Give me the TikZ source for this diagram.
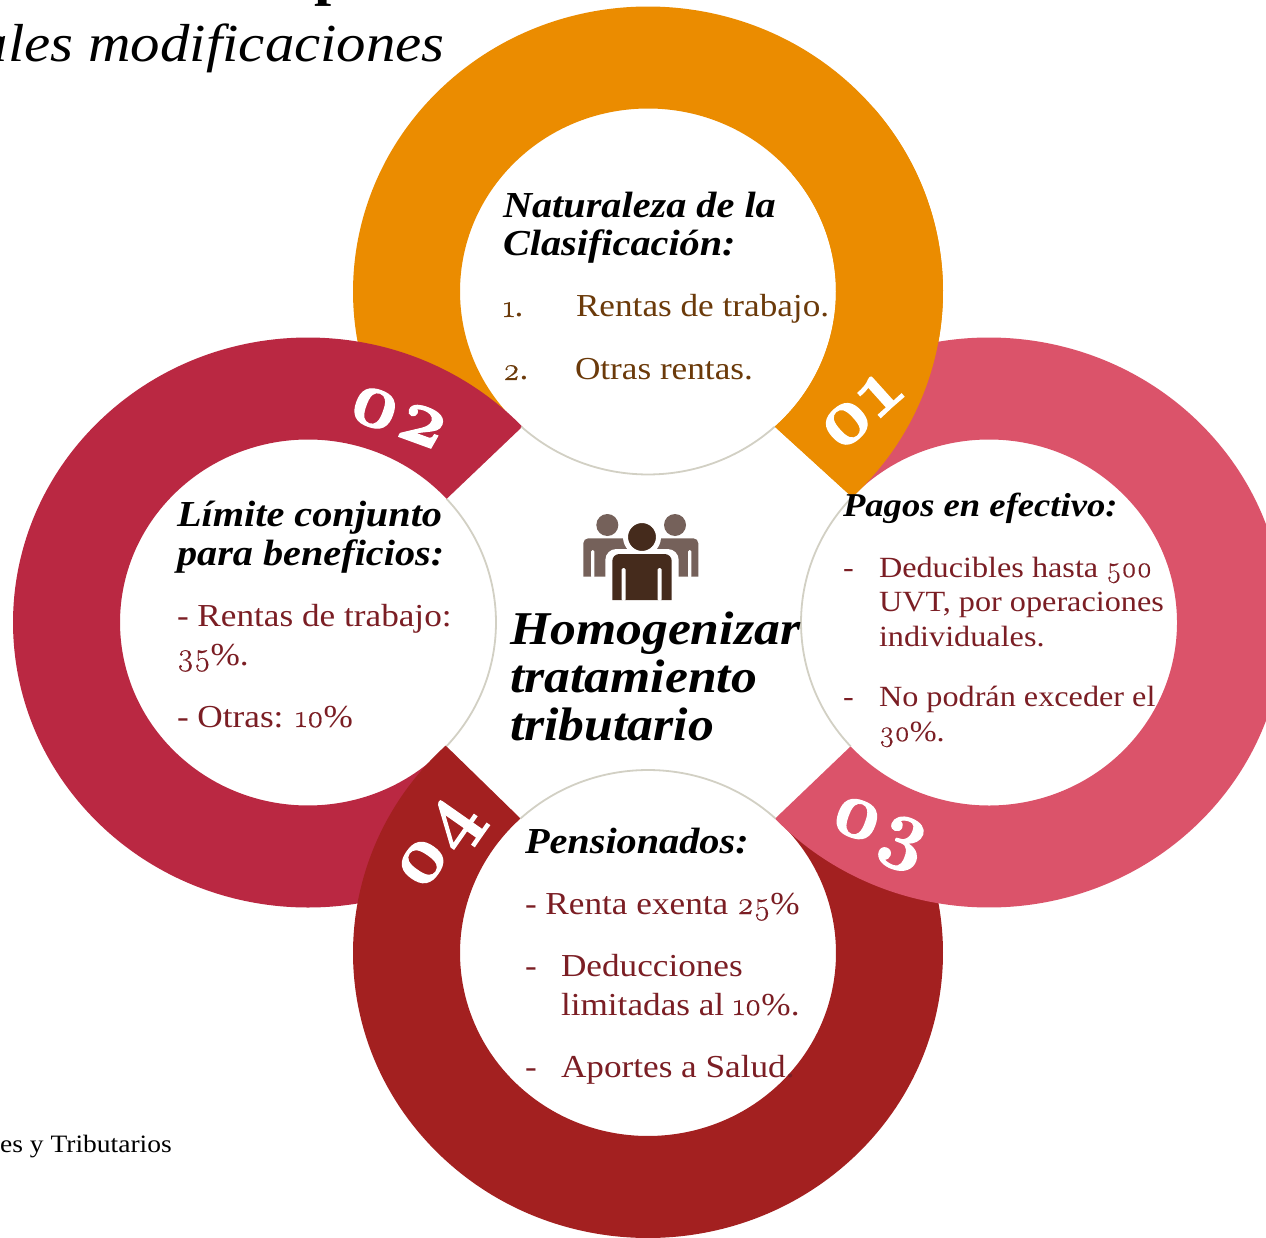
\documentclass[tikz,border=0pt]{standalone}
\usepackage{fontspec}
\usetikzlibrary{calc}
\setmainfont[FakeStretch=1.1]{Liberation Serif}
\newfontfamily\osf[Numbers=OldStyle,Scale=1.0,FakeBold=0.5]{Latin Modern Roman}
\newfontfamily\osfb[Numbers=OldStyle,BoldFeatures={FakeBold=1.5}]{Latin Modern Roman}
\definecolor{cOrange}{HTML}{EB8C00}
\definecolor{cCrimson}{HTML}{BA2842}
\definecolor{cPink}{HTML}{DB536A}
\definecolor{cDark}{HTML}{A32020}
\definecolor{cText}{HTML}{7B1E24}
\definecolor{cBrown}{HTML}{6B3A0A}
\definecolor{cRim}{HTML}{D2D0C4}
\definecolor{cPeopleA}{HTML}{75615A}
\definecolor{cPeopleB}{HTML}{452B1C}
\newcommand\ringpart[7]{%
  \fill[#1] ($(#2,#3)+(#4:295pt and 285pt)$)
    arc[start angle=#4,end angle=#5,x radius=295pt,y radius=285pt]
    -- ($(#2,#3)+(#6:188pt and 183pt)$)
    arc[start angle=#6,end angle=#7,x radius=188pt,y radius=183pt] -- cycle;}
\newcommand\rimarc[4]{%
  \draw[rim] ($(#1,#2)+(#3:188pt and 183pt)$)
    arc[start angle=#3,end angle=#4,x radius=188pt,y radius=183pt];}
\tikzset{
  body/.style={anchor=base west,inner sep=0pt,outer sep=0pt,text=cText,font=\fontsize{32}{34}\selectfont},
  bodysmall/.style={body,font=\fontsize{29.3}{32}\selectfont},
  brownbody/.style={body,text=cBrown},
  head/.style={anchor=base west,inner sep=0pt,outer sep=0pt,text=black,font=\fontsize{36.6}{38}\selectfont\bfseries\itshape},
  headsmall/.style={head,font=\fontsize{33.3}{36}\selectfont\bfseries\itshape},
  center/.style={anchor=base west,inner sep=0pt,outer sep=0pt,text=black,font=\fontsize{47}{49}\selectfont\bfseries\itshape},
  num/.style={inner sep=0pt,outer sep=0pt,text=white,font=\fontsize{80}{82}\selectfont\osfb\bfseries},
  rim/.style={draw=cRim,line width=1.8pt},
}
\begin{document}
\begin{tikzpicture}[x=1pt,y=-1pt]
\useasboundingbox (0,0) rectangle (1266,1238);
\fill[white] (0,0) rectangle (1266,1238);
% rings
\ringpart{cOrange}{648}{291.5}{-46.2}{210.8}{227.6}{-47.6}
\ringpart{cCrimson}{308}{622.5}{43.4}{300}{317.4}{42.5}
\ringpart{cDark}{648}{953}{133.3}{390.3}{407.3}{132.7}
\ringpart{cPink}{989}{622.5}{223.5}{480.5}{497}{222.6}
\ringpart{cOrange}{648}{291.5}{-46.2}{40}{40}{-47.6}
% inner rims
\rimarc{648}{291.5}{227.6}{312.4}
\rimarc{308}{622.5}{-42.5}{42.5}
\rimarc{989}{622.5}{137}{222.6}
\rimarc{648}{953}{47.3}{132.7}
% icon
\fill[cPeopleA] (607.3,525) circle[radius=11pt];
\fill[cPeopleA] (675,525) circle[radius=11pt];
\fill[cPeopleA] (583.3,576.7) [rounded corners=5pt] -- (583.3,538.3) -- (628,538.3) [sharp corners] -- (628,576.7) -- cycle;
\fill[cPeopleA] (698.3,576.7) [rounded corners=5pt] -- (698.3,538.3) -- (654,538.3) [sharp corners] -- (654,576.7) -- cycle;
\fill[white,rounded corners=1.5pt] (591,578) -- (591,550) -- (594.3,550) -- (594.3,578) -- cycle;
\fill[white,rounded corners=1.5pt] (691.3,578) -- (691.3,550) -- (688,550) -- (688,578) -- cycle;
\fill[white] (605.3,606) [rounded corners=11pt] -- (605.3,549) -- (678.7,549) [sharp corners] -- (678.7,606) -- cycle;
\fill[cPeopleB,draw=white,line width=5pt] (642,537) circle[radius=16.5pt];
\fill[cPeopleB] (612.3,600) [rounded corners=7pt] -- (612.3,554) -- (671.7,554) [sharp corners] -- (671.7,600) -- cycle;
\fill[white,rounded corners=1.5pt] (621.7,601) -- (621.7,568) -- (625.7,568) -- (625.7,601) -- cycle;
\fill[white,rounded corners=1.5pt] (657.7,601) -- (657.7,568) -- (661.7,568) -- (661.7,601) -- cycle;
% clipped title
\node[anchor=base,inner sep=0pt,font=\fontsize{56}{58}\selectfont\bfseries] (titleA) at (332,-5) {p};
\node[anchor=base east,inner sep=0pt,font=\fontsize{53.5}{55}\selectfont\itshape] (titleB) at (445,62) {ales modificaciones};
\node[anchor=base east,inner sep=0pt,font=\fontsize{25}{27}\selectfont] (source) at (172,1152) {es y Tributarios};
% top
\node[head] (a1) at (503,218) {Naturaleza de la};
\node[head] (a2) at (503,256) {Clasificación:};
\node[brownbody] (a3) at (503,317) {{\osf 1}.};
\node[brownbody] (a4) at (576,317) {Rentas de trabajo.};
\node[brownbody] (a5) at (503,380) {{\osf 2}.};
\node[brownbody] (a6) at (575,380) {Otras rentas.};
% left
\node[head] (b1) at (177,526) {Límite conjunto};
\node[head] (b2) at (177,565) {para beneficios:};
\node[body] (b3) at (177,626) {- Rentas de trabajo:};
\node[body] (b4) at (177,665) {{\osf 35}\%.};
\node[body] (b5) at (177,727) {- Otras: {\osf 10}\%};
% right
\node[headsmall] (c1) at (843,516) {Pagos en efectivo:};
\node[bodysmall] (c2) at (843,577) {-};
\node[bodysmall] (c3) at (879,577) {Deducibles hasta {\osf 500}};
\node[bodysmall] (c4) at (879,611) {UVT, por operaciones};
\node[bodysmall] (c5) at (879,646) {individuales.};
\node[bodysmall] (c6) at (843,706) {-};
\node[bodysmall] (c7) at (879,706) {No podrán exceder el};
\node[bodysmall] (c8) at (879,741) {{\osf 30}\%.};
% bottom
\node[head] (d1) at (525,853) {Pensionados:};
\node[body] (d2) at (525,914) {- Renta exenta {\osf 25}\%};
\node[body] (d3) at (525,976) {-};
\node[body] (d4) at (561,976) {Deducciones};
\node[body] (d5) at (561,1015) {limitadas al {\osf 10}\%.};
\node[body] (d6) at (525,1077) {-};
\node[body] (d7) at (561,1077) {Aportes a Salud.};
% center
\node[center] (e1) at (510,644) {Homogenizar};
\node[center] (e2) at (510,692) {tratamiento};
\node[center] (e3) at (510,740) {tributario};
% numbers
\node[num,rotate=42] (n1) at (861,411) {01};
\node[num,rotate=-20] (n2) at (398,417) {02};
\node[num,rotate=-20] (n3) at (878,835) {03};
\node[num,rotate=55] (n4) at (441,847) {04};
\end{tikzpicture}
\end{document}
